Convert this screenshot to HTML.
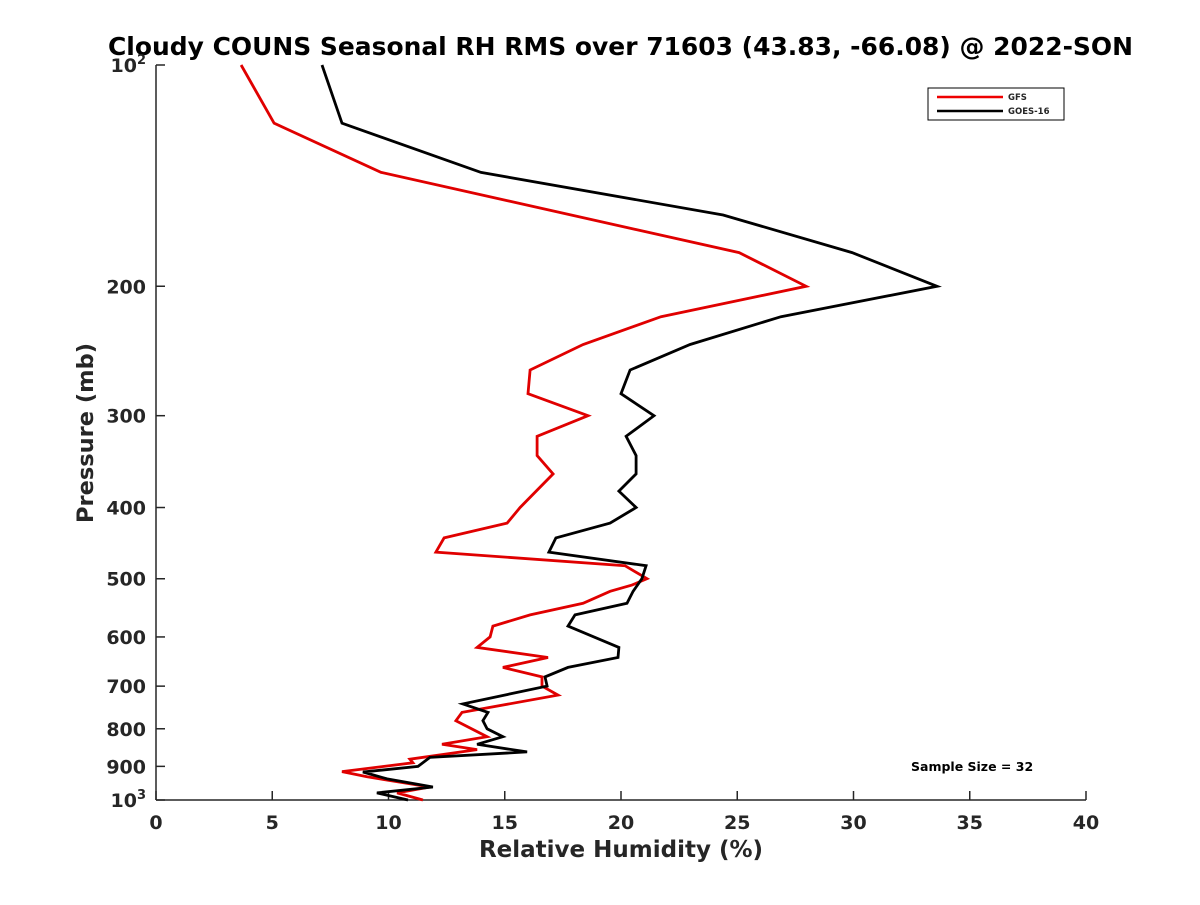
<!DOCTYPE html>
<html><head><meta charset="utf-8"><style>
body{margin:0;background:#fff;}
svg text{font-family:"DejaVu Sans","Liberation Sans",sans-serif;font-weight:bold;fill:#262626;}
</style></head><body>
<svg id="chart" width="1200" height="900" viewBox="0 0 1200 900" xmlns="http://www.w3.org/2000/svg">
<rect width="1200" height="900" fill="#fff"/>
<text x="108" y="55" font-size="24.5" textLength="1025" lengthAdjust="spacingAndGlyphs" style="fill:#000">Cloudy COUNS Seasonal RH RMS over 71603 (43.83, -66.08) @ 2022-SON</text>
<g id="axes"></g>
<g id="series"></g>
<g>
<rect x="928" y="88" width="136" height="32" fill="#fff" stroke="#000" stroke-width="1"/>
<line x1="937" y1="97" x2="1003" y2="97" stroke="#e00" stroke-width="2.5"/>
<text x="1008" y="100" font-size="8.5">GFS</text>
<line x1="937" y1="111" x2="1003" y2="111" stroke="#000" stroke-width="2.5"/>
<text x="1008" y="114" font-size="8.5">GOES-16</text>
</g>
<text x="911" y="771" font-size="12.5" style="fill:#000">Sample Size = 32</text>
<text x="621" y="857" font-size="23" text-anchor="middle">Relative Humidity (%)</text>
<text transform="translate(93,433) rotate(-90)" font-size="22.5" text-anchor="middle">Pressure (mb)</text>
</svg>
<script>
const xTicks=[0,5,10,15,20,25,30,35,40];
const yTicks=[100,200,300,400,500,600,700,800,900,1000];
const yTickLabels=["10|2","200","300","400","500","600","700","800","900","10|3"];
const gfsP=[100,120,140,180,200,220,240,260,280,300,320,340,360,400,420,440,460,480,500,510,520,540,560,580,600,620,640,660,680,700,720,760,780,820,840,854,880,890,915,930,960,978,1000];
const gfsRH=[3.66,5.08,9.68,25.08,27.96,21.72,18.37,16.09,16.0,18.58,16.39,16.39,17.08,15.66,15.1,12.39,12.04,20.17,21.12,20.47,19.53,18.37,16.09,14.49,14.37,13.81,16.86,14.92,16.6,16.6,17.29,13.16,12.9,14.24,12.3,13.81,10.92,11.05,8.0,9.08,11.78,10.37,11.48];
const goesP=[100,120,140,160,180,200,220,240,260,280,300,320,340,360,380,400,420,440,460,480,500,520,540,560,580,620,640,660,680,700,740,760,780,800,820,840,860,875,900,916,936,960,978,1000];
const goesRH=[7.14,8.0,13.98,24.39,29.94,33.59,26.88,22.97,20.39,20.0,21.42,20.22,20.65,20.65,19.91,20.65,19.53,17.2,16.9,21.08,20.9,20.52,20.26,18.02,17.72,19.91,19.87,17.72,16.73,16.82,13.2,14.28,14.06,14.24,14.92,13.81,15.96,11.78,11.27,8.9,9.94,11.91,9.5,10.84];
const L=156,R=1086,T=65,B=800;
const xs=v=>L+(v-0)/(40-0)*(R-L);
const ys=p=>T+(Math.log10(p)-2)*(B-T);
const NS="http://www.w3.org/2000/svg";
function mk(tag,attrs,parent){const e=document.createElementNS(NS,tag);for(const k in attrs)e.setAttribute(k,attrs[k]);parent.appendChild(e);return e;}
const ax=document.getElementById('axes');
const xl=mk('line',{x1:L,y1:B,x2:R,y2:B,stroke:'#262626','stroke-width':1.5},ax);


const yl=mk('line',{x1:L,y1:T,x2:L,y2:B,stroke:'#262626','stroke-width':1.5},ax);


xTicks.forEach(v=>{
  const x=xs(v);
  mk('line',{x1:x,y1:B,x2:x,y2:B-9,stroke:'#262626','stroke-width':1.5},ax);
  const t=mk('text',{x:x,y:B+29,'font-size':19,'text-anchor':'middle'},ax);
  t.textContent=v;
  
  
});
yTicks.forEach((p,i)=>{
  const y=ys(p);
  mk('line',{x1:L,y1:y,x2:L+9,y2:y,stroke:'#262626','stroke-width':1.5},ax);
  const lab=yTickLabels[i];
  const t=mk('text',{x:L-10,y:y+7,'font-size':19,'text-anchor':'end'},ax);
  if(lab.indexOf('|')>=0){
    const parts=lab.split('|');
    const a=mk('tspan',{},t);a.textContent=parts[0];
    const b=mk('tspan',{dy:-8,'font-size':13},t);b.textContent=parts[1];
  } else t.textContent=lab;
  
  
});
const sg=document.getElementById('series');
function draw(P,RH,color,name){
  const pts=P.map((p,i)=>xs(RH[i]).toFixed(1)+','+ys(p).toFixed(1)).join(' ');
  const pl=mk('polyline',{points:pts,fill:'none',stroke:color,'stroke-width':2.8,'stroke-linejoin':'miter'},sg);
  
  
}
draw(gfsP,gfsRH,'#e00000','gfs-line');
draw(goesP,goesRH,'#000000','goes16-line');
</script>
</body></html>
